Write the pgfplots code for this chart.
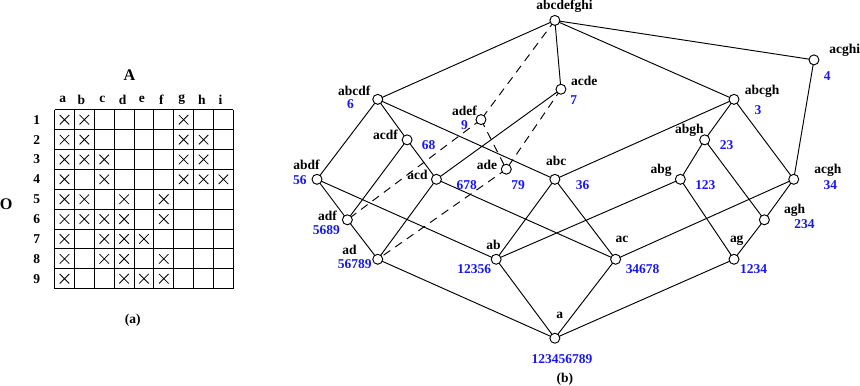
\documentclass[border=0pt]{standalone}
\usepackage{pgfplots}
\pgfplotsset{compat=1.18}
\usepackage{fontspec}
\setmainfont{Liberation Serif}
\definecolor{numblue}{RGB}{25,25,235}
\begin{document}
\begin{tikzpicture}
\begin{axis}[
  scale only axis, width=645pt, height=293.25pt,
  xmin=0, xmax=860, ymin=0, ymax=391, y dir=reverse,
  hide axis, clip=false, unbounded coords=jump,
]
% ---------- (a) formal context ----------
\addplot[black, line width=0.65pt] coordinates {
 (62.7,113.3) (62.7,290) (nan,nan) (82.3,113.3) (82.3,290) (nan,nan)
 (101.9,113.3) (101.9,290) (nan,nan) (121.6,113.3) (121.6,290) (nan,nan)
 (141.2,113.3) (141.2,290) (nan,nan) (160.8,113.3) (160.8,290) (nan,nan)
 (180.4,113.3) (180.4,290) (nan,nan) (200.0,113.3) (200.0,290) (nan,nan)
 (219.7,113.3) (219.7,290) (nan,nan) (239.3,113.3) (239.3,290) (nan,nan)
 (62.7,113.3) (239.3,113.3) (nan,nan) (62.7,132.9) (239.3,132.9) (nan,nan)
 (62.7,152.6) (239.3,152.6) (nan,nan) (62.7,172.2) (239.3,172.2) (nan,nan)
 (62.7,191.8) (239.3,191.8) (nan,nan) (62.7,211.5) (239.3,211.5) (nan,nan)
 (62.7,231.1) (239.3,231.1) (nan,nan) (62.7,250.7) (239.3,250.7) (nan,nan)
 (62.7,270.4) (239.3,270.4) (nan,nan) (62.7,290.0) (239.3,290.0)
};
\addplot[only marks, mark=x, mark size=5pt, mark options={line width=0.6pt, black}] coordinates {
 (72.5,123.1) (92.1,123.1) (190.2,123.1)
 (72.5,142.8) (92.1,142.8) (190.2,142.8) (209.9,142.8)
 (72.5,162.4) (92.1,162.4) (111.8,162.4) (190.2,162.4) (209.9,162.4)
 (72.5,182.0) (111.8,182.0) (190.2,182.0) (209.9,182.0) (229.5,182.0)
 (72.5,201.7) (92.1,201.7) (131.4,201.7) (170.6,201.7)
 (72.5,221.3) (92.1,221.3) (111.8,221.3) (131.4,221.3) (170.6,221.3)
 (72.5,240.9) (111.8,240.9) (131.4,240.9) (151.0,240.9)
 (72.5,260.6) (111.8,260.6) (131.4,260.6) (170.6,260.6)
 (72.5,280.2) (131.4,280.2) (151.0,280.2) (170.6,280.2)
};
\addplot[draw=none, nodes near coords, point meta=explicit symbolic,
  nodes near coords align={center},
  every node near coord/.append style={font=\bfseries, inner sep=0pt, anchor=center, text=black}]
  table[meta=t, row sep=\\]{
 x y t\\
 70.7 103.3 a\\ 89.3 103.3 b\\ 110 103.3 c\\ 130 103.3 d\\ 149 103.3 e\\
 168.3 103.3 f\\ 188.3 103.3 g\\ 208.3 103.3 h\\ 226.7 103.3 i\\
 45 123.1 1\\ 45 142.8 2\\ 45 162.4 3\\ 45 182.0 4\\ 45 201.7 5\\
 45 221.3 6\\ 45 240.9 7\\ 45 260.6 8\\ 45 280.2 9\\
 140 321.7 (a)\\ 567 380 (b)\\
};
\addplot[draw=none, nodes near coords, point meta=explicit symbolic,
  nodes near coords align={center},
  every node near coord/.append style={font=\bfseries\large, inner sep=0pt, anchor=center, text=black}]
  table[meta=t, row sep=\\]{
 x y t\\
 136.7 79.3 A\\ 15 207 O\\
};
% ---------- (b) concept lattice ----------
\addplot[black, line width=0.7pt] coordinates {
 (557,25) (382,103) (nan,nan) (557,25) (563,93) (nan,nan)
 (557,25) (734,103) (nan,nan) (557,25) (813,64) (nan,nan)
 (382,103) (322,182) (nan,nan) (382,103) (411,143) (nan,nan)
 (382,103) (557,182) (nan,nan) (563,93) (440,182) (nan,nan)
 (411,143) (352,222) (nan,nan) (411,143) (440,182) (nan,nan)
 (322,182) (352,222) (nan,nan) (322,182) (499,261) (nan,nan)
 (440,182) (382,261) (nan,nan) (440,182) (617,261) (nan,nan)
 (352,222) (382,261) (nan,nan) (382,261) (557,339) (nan,nan)
 (557,182) (499,261) (nan,nan) (557,182) (617,261) (nan,nan)
 (557,182) (734,103) (nan,nan) (734,103) (705,143) (nan,nan)
 (734,103) (793,182) (nan,nan) (705,143) (681,182) (nan,nan)
 (705,143) (764,222) (nan,nan) (681,182) (499,261) (nan,nan)
 (681,182) (734,261) (nan,nan) (793,182) (617,261) (nan,nan)
 (793,182) (764,222) (nan,nan) (813,64) (793,182) (nan,nan)
 (764,222) (734,261) (nan,nan) (499,261) (557,339) (nan,nan)
 (617,261) (557,339) (nan,nan) (734,261) (557,339)
};
\addplot[black, line width=0.7pt, dash pattern=on 6pt off 4.5pt] coordinates {
 (557,25) (484,123) (nan,nan) (484,123) (352,222) (nan,nan)
 (484,123) (509,172) (nan,nan) (563,93) (509,172) (nan,nan)
 (509,172) (382,261)
};
\addplot[only marks, mark=*, mark size=3.7pt, mark options={fill=white, draw=black, line width=0.7pt}] coordinates {
 (557,25) (813,64) (563,93) (382,103) (734,103) (484,123)
 (411,143) (705,143) (509,172) (322,182) (440,182) (557,182)
 (681,182) (793,182) (352,222) (764,222) (382,261) (499,261)
 (617,261) (734,261) (557,339)
};
\addplot[draw=none, nodes near coords, point meta=explicit symbolic,
  nodes near coords align={center},
  every node near coord/.append style={font=\bfseries, inner sep=0pt, anchor=center, text=black}]
  table[meta=t, row sep=\\]{
 x y t\\
 566.5 11 abcdefghi\\ 358.7 94.7 abcdf\\ 467.7 114 adef\\ 389.7 138 acdf\\
 311.7 167.3 abdf\\ 421.3 178 acd\\ 490 168 ade\\ 558.3 164 abc\\
 586 85 acde\\ 843.3 55 acghi\\ 761.7 95 abcgh\\ 690 133.3 abgh\\
 662 173.3 abg\\ 826.7 172.7 acgh\\ 332.3 217.7 adf\\ 354 251.7 ad\\
 496.3 246.7 ab\\ 561.7 316 a\\ 623.3 241.7 ac\\ 736.7 242.7 ag\\ 794 212.7 agh\\
};
\addplot[draw=none, nodes near coords, point meta=explicit symbolic,
  nodes near coords align={center},
  every node near coord/.append style={font=\bfseries, inner sep=0pt, anchor=center, text=numblue}]
  table[meta=t, row sep=\\]{
 x y t\\
 355 108 6\\ 467.7 128 9\\ 432.3 148.3 68\\ 305 182.7 56\\ 470 187.3 678\\
 520.7 187.3 79\\ 584.3 187.3 36\\ 575.7 103.3 7\\ 826 80 4\\ 757.7 113.3 3\\
 726.7 148.3 23\\ 705.7 187.3 123\\ 829.3 187.3 34\\ 331.3 231.7 5689\\
 359.3 266 56789\\ 477.3 270.7 12356\\ 564 360 123456789\\ 643.7 270.7 34678\\
 753.3 270.7 1234\\ 803.7 226.7 234\\
};
\end{axis}
\end{tikzpicture}
\end{document}
